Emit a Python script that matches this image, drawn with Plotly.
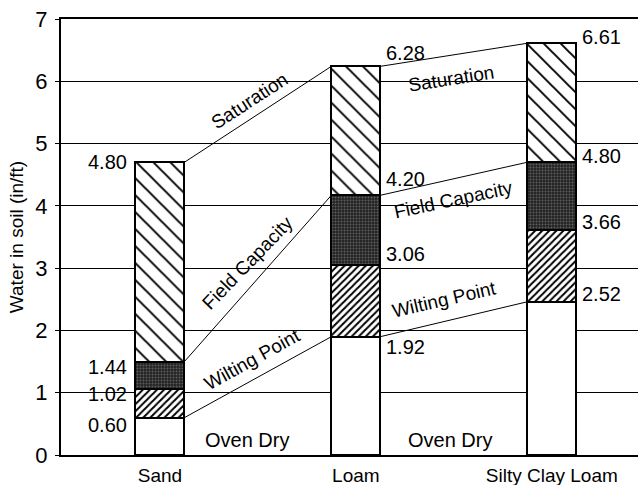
import plotly.graph_objects as go

categories = ["Sand", "Loam", "Silty Clay Loam"]
# layer boundaries as drawn (in/ft)
oven_dry_top = [0.60, 1.90, 2.46]
wilting_top = [1.06, 3.05, 3.62]
field_cap_top = [1.50, 4.17, 4.70]
saturation_top = [4.70, 6.24, 6.61]
# printed value labels
lbl_wilting = ["0.60", "1.92", "2.52"]
lbl_mid = ["1.02", "3.06", "3.66"]
lbl_field = ["1.44", "4.20", "4.80"]
lbl_sat = ["4.80", "6.28", "6.61"]
y_ticks = [0, 1, 2, 3, 4, 5, 6, 7]

FONT = "Liberation Sans, Arial, Helvetica, sans-serif"
xpos = list(range(len(categories)))
W = 0.25
HW = W / 2

def diff(a, b):
    return [x - y for x, y in zip(a, b)]

fig = go.Figure()
line = dict(color="black", width=2)
fig.add_bar(x=xpos, y=oven_dry_top, width=W, marker=dict(color="white", line=line),
            showlegend=False)
fig.add_bar(x=xpos, y=diff(wilting_top, oven_dry_top), width=W,
            marker=dict(color="white", line=line,
                        pattern=dict(shape="/", fgcolor="black", bgcolor="white",
                                     size=5, solidity=0.4, fillmode="replace")),
            showlegend=False)
fig.add_bar(x=xpos, y=diff(field_cap_top, wilting_top), width=W,
            marker=dict(color="#333333", line=line,
                        pattern=dict(shape=".", fgcolor="#5e5e5e", bgcolor="#222222",
                                     size=3, solidity=0.35, fillmode="replace")),
            showlegend=False)
fig.add_bar(x=xpos, y=diff(saturation_top, field_cap_top), width=W,
            marker=dict(color="white", line=line,
                        pattern=dict(shape="\\", fgcolor="black", bgcolor="white",
                                     size=12, solidity=0.16, fillmode="replace")),
            showlegend=False)

# connecting lines
for series in (saturation_top, field_cap_top, oven_dry_top):
    for i in range(len(categories) - 1):
        fig.add_scatter(x=[xpos[i] + HW, xpos[i + 1] - HW], y=[series[i], series[i + 1]],
                        mode="lines", line=dict(color="black", width=1),
                        showlegend=False, hoverinfo="skip")

ann = []
# value labels
shifts = {
    0: [0, -5, -5, -7],
    1: [13, 16, 11, -10],
    2: [6, 6, 8, 8],
}
for i in range(len(categories)):
    ys = [saturation_top[i], field_cap_top[i], wilting_top[i], oven_dry_top[i]]
    ts = [lbl_sat[i], lbl_field[i], lbl_mid[i], lbl_wilting[i]]
    for k in range(4):
        if i == 0:
            ann.append(dict(x=xpos[i] - HW, y=ys[k], text=ts[k], xanchor="right",
                            yanchor="middle", xshift=-6, yshift=shifts[i][k],
                            showarrow=False, font=dict(size=20, color="black", family=FONT)))
        else:
            ann.append(dict(x=xpos[i] + HW, y=ys[k], text=ts[k], xanchor="left",
                            yanchor="middle", xshift=4, yshift=shifts[i][k],
                            showarrow=False, font=dict(size=20, color="black", family=FONT)))

# rotated line labels
line_labels = [
    ("Saturation", saturation_top, 0, -33, -8, 14),
    ("Field Capacity", field_cap_top, 0, -46, -10, 16),
    ("Wilting Point", oven_dry_top, 0, -29, -6, 18),
    ("Saturation", saturation_top, 1, -9, -2, -24),
    ("Field Capacity", field_cap_top, 1, -12, 0, -21),
    ("Wilting Point", oven_dry_top, 1, -13, -10, 20),
]
for text, series, i, ang, dx, dy in line_labels:
    mx = (xpos[i] + HW + xpos[i + 1] - HW) / 2
    my = (series[i] + series[i + 1]) / 2
    ann.append(dict(x=mx, y=my, text=text, textangle=ang, showarrow=False,
                    xshift=dx, yshift=dy, xanchor="center", yanchor="middle",
                    font=dict(size=19, color="black", family=FONT)))

for xx in (0.444, 1.481):
    ann.append(dict(x=xx, y=0.24, text="Oven Dry", showarrow=False,
                    xanchor="center", yanchor="middle",
                    font=dict(size=20, color="black", family=FONT)))

fig.update_layout(
    width=638, height=485,
    margin=dict(l=61, r=0, t=19, b=30),
    paper_bgcolor="white", plot_bgcolor="white",
    barmode="stack", bargap=0,
    annotations=ann,
    font=dict(family=FONT, color="black"),
)
fig.update_xaxes(range=[-0.505, 2.44], tickmode="array", tickvals=xpos, ticktext=categories,
                 showgrid=False, zeroline=False, showline=True, mirror=True,
                 linecolor="black", linewidth=2, ticks="", tickfont=dict(size=19),
                 ticklabelstandoff=2, automargin=False)
fig.update_yaxes(range=[0, 7], tickmode="array", tickvals=y_ticks,
                 showgrid=True, gridcolor="black", gridwidth=1, zeroline=False,
                 showline=True, linecolor="black", linewidth=2,
                 ticks="outside", ticklen=4, tickcolor="black", tickwidth=1,
                 ticklabelstandoff=3, tickfont=dict(size=22), automargin=False,
                 title=dict(text="Water in soil (in/ft)", font=dict(size=19), standoff=7))

fig.write_html("out.html", config={"displayModeBar": False},
               post_script="document.body.style.margin='0';document.body.style.overflow='hidden';")
